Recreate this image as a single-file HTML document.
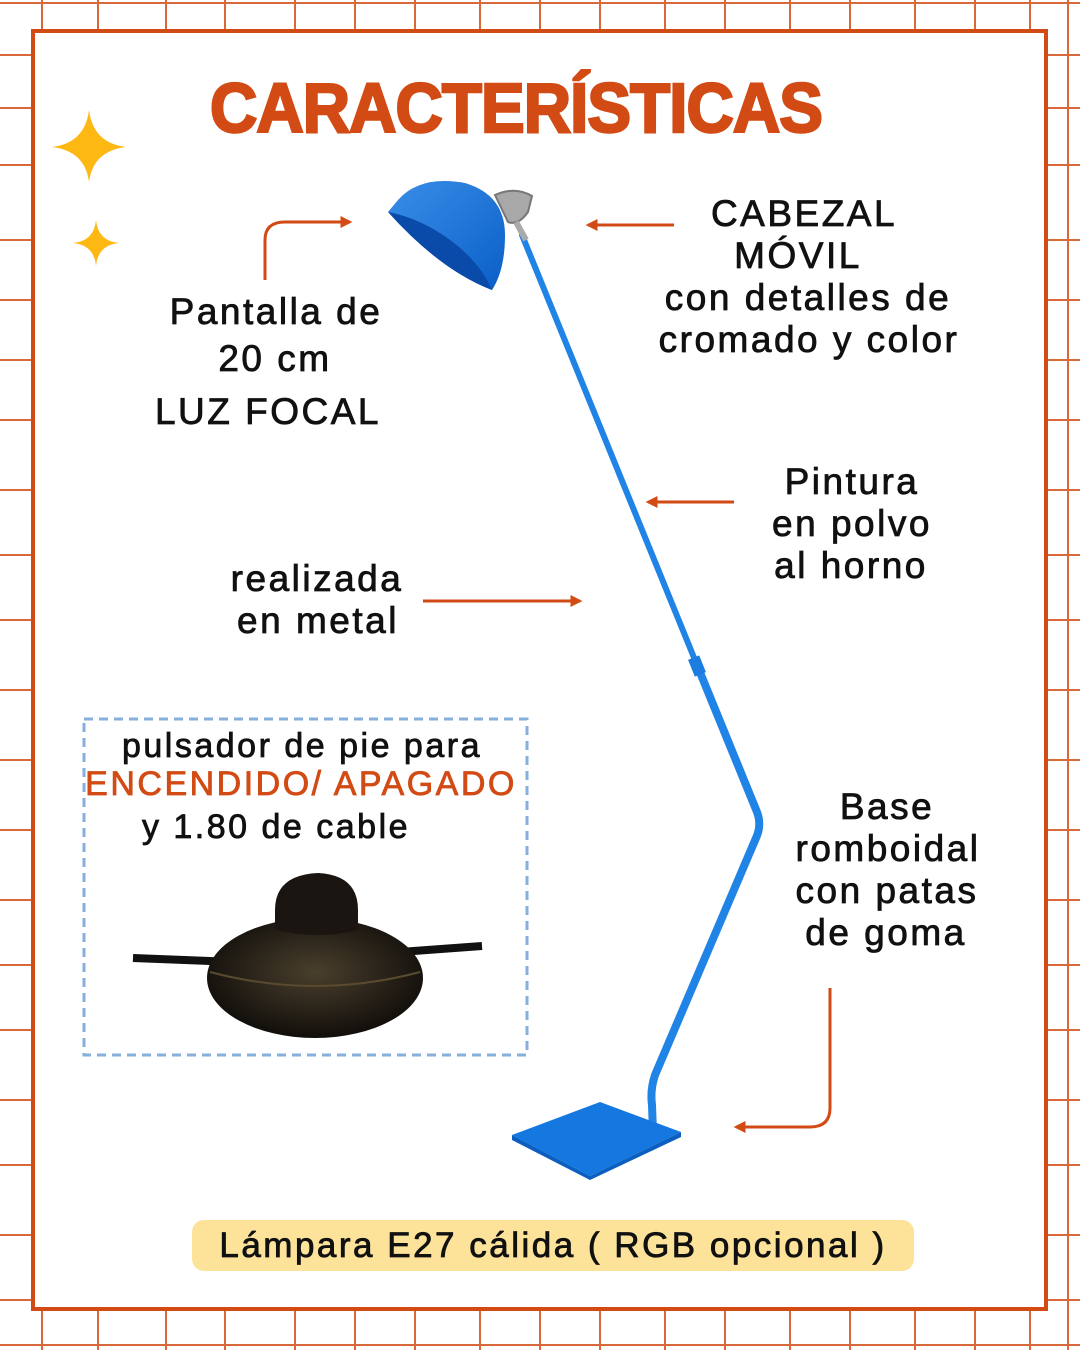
<!DOCTYPE html>
<html><head><meta charset="utf-8"><style>
html,body{margin:0;padding:0;background:#fff}
svg{display:block}
text{font-family:"Liberation Sans","DejaVu Sans",sans-serif}
</style></head><body>
<svg width="1080" height="1350" viewBox="0 0 1080 1350" xmlns="http://www.w3.org/2000/svg">
<defs>
<marker id="ah" viewBox="0 0 10 10" refX="8" refY="5" markerWidth="4" markerHeight="4" orient="auto"><path d="M0,0 L10,5 L0,10 z" fill="#d24a14"/></marker>
<radialGradient id="sw" cx="0.5" cy="0.45" r="0.6"><stop offset="0" stop-color="#4a3f2c"/><stop offset="1" stop-color="#0c0a08"/></radialGradient>
<linearGradient id="sh" x1="0" y1="0" x2="1" y2="1"><stop offset="0" stop-color="#3a8ee8"/><stop offset="1" stop-color="#0a5fc8"/></linearGradient>
</defs>
<g stroke="#d9683a" stroke-width="2" fill="none">
<path d="M42 0V1350M98 0V1350M166 0V1350M225 0V1350M295 0V1350M355 0V1350M415 0V1350M480 0V1350M540 0V1350M600 0V1350M665 0V1350M725 0V1350M790 0V1350M850 0V1350M915 0V1350M975 0V1350M1030 0V1350M1068 0V1350"/>
<path d="M0 3H1080M0 55H1080M0 108H1080M0 165H1080M0 240H1080M0 300H1080M0 360H1080M0 420H1080M0 490H1080M0 555H1080M0 620H1080M0 690H1080M0 760H1080M0 830H1080M0 900H1080M0 965H1080M0 1030H1080M0 1100H1080M0 1165H1080M0 1235H1080M0 1300H1080M0 1345H1080"/>
</g>
<rect x="33" y="31" width="1013" height="1278" fill="#fff" stroke="#d24a14" stroke-width="4"/>

<text x="516" y="132" text-anchor="middle" font-size="70" font-weight="bold" fill="#d24a14" stroke="#d24a14" stroke-width="2.5" letter-spacing="-1" textLength="612" lengthAdjust="spacingAndGlyphs">CARACTERÍSTICAS</text>

<path d="M89 110 Q93 143 126 147 Q93 151 89 182 Q85 151 52 147 Q85 143 89 110z" fill="#fdb813"/>
<path d="M96 220 Q98 241 119 243 Q98 245 96 266 Q94 245 73 243 Q94 241 96 220z" fill="#fdb813"/>

<!-- lamp -->
<g fill="none" stroke-linecap="round" stroke-linejoin="round">
<path d="M522 235 L697 665" stroke="#1f84e6" stroke-width="6"/>
<path d="M697 665 L757 812 Q762 825 756 838 L655 1075 Q650 1090 652 1105 L653 1132" stroke="#1f84e6" stroke-width="8"/>
</g>
<rect x="691" y="657" width="12" height="18" fill="#1a7ddf" transform="rotate(-22 697 666)"/>
<path d="M512 1135 L600 1102 L681 1132 L590 1176 Z" fill="#1478e0"/>
<path d="M512 1135 L590 1176 L681 1132 L681 1137 L590 1180 L512 1140Z" fill="#0a5fc0"/>
<path d="M495 195 Q515 186 532 196 L528 212 Q518 226 508 222 Z" fill="#a8a8a8" stroke="#777" stroke-width="2"/>
<path d="M516 222 L526 240" stroke="#aaa" stroke-width="6"/>
<path d="M398 200 Q420 175 465 183 Q505 195 505 235 Q505 270 492 290 Q440 270 388 212 Z" fill="url(#sh)"/>
<path d="M388 212 Q440 270 492 290 Q480 262 450 240 Q420 218 388 212Z" fill="#0a4aa8"/>

<!-- arrows -->
<g stroke="#d24a14" stroke-width="3" fill="none" marker-end="url(#ah)">
<path d="M265 280 V240 Q265 222 285 222 H350"/>
<path d="M674 225 H588"/>
<path d="M734 502 H648"/>
<path d="M423 601 H580"/>
<path d="M830 988 V1108 Q830 1127 810 1127 H736"/>
</g>

<g font-size="37" fill="#111" stroke="#111" stroke-width="0.8" letter-spacing="2.5" text-anchor="middle">
<text x="276" y="324">Pantalla de</text>
<text x="275" y="371">20 cm</text>
<text x="268" y="424">LUZ FOCAL</text>
<text x="804" y="226">CABEZAL</text>
<text x="798" y="268">MÓVIL</text>
<text x="808" y="310">con detalles de</text>
<text x="809" y="352">cromado y color</text>
<text x="852" y="494">Pintura</text>
<text x="852" y="536">en polvo</text>
<text x="851" y="578">al horno</text>
<text x="317" y="591">realizada</text>
<text x="318" y="633">en metal</text>
<text x="887" y="819">Base</text>
<text x="888" y="861">romboidal</text>
<text x="887" y="903">con patas</text>
<text x="886" y="945">de goma</text>
</g>

<rect x="84" y="719" width="443" height="336" fill="none" stroke="#86afdc" stroke-width="3" stroke-dasharray="9 6"/>
<g font-size="34" letter-spacing="2.5" text-anchor="middle" stroke-width="0.8">
<text x="302" y="757" fill="#111" stroke="#111">pulsador de pie para</text>
<text x="301" y="795" fill="#d24a14" stroke="#d24a14">ENCENDIDO/ APAGADO</text>
<text x="276" y="838" fill="#111" stroke="#111">y 1.80 de cable</text>
</g>
<path d="M133 958 L260 963 M400 952 L482 946" stroke="#111" stroke-width="8"/>
<ellipse cx="315" cy="978" rx="108" ry="60" fill="url(#sw)"/>
<path d="M275 910 Q275 875 318 873 Q358 875 358 910 L358 930 Q318 940 275 930Z" fill="#1a1511"/>
<path d="M210 972 Q315 1000 420 972" stroke="#5a4a30" stroke-width="2" fill="none"/>

<rect x="192" y="1220" width="722" height="51" rx="12" fill="#fde39a"/>
<text x="553" y="1257" text-anchor="middle" font-size="35" fill="#111" stroke="#111" stroke-width="0.8" letter-spacing="2.5">Lámpara E27 cálida ( RGB opcional )</text>
</svg>
</body></html>
